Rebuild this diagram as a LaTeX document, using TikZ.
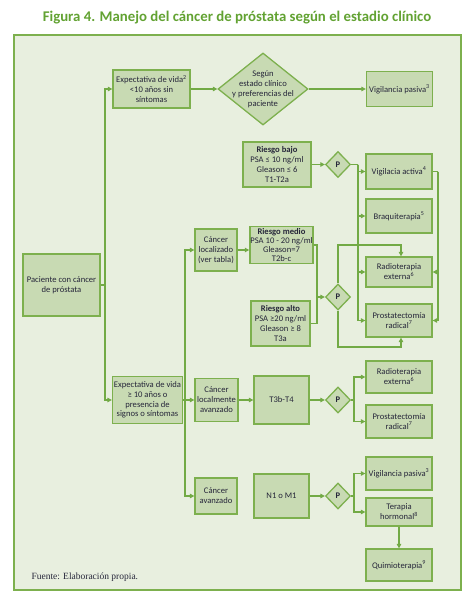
\documentclass[tikz,border=0pt]{standalone}
\usepackage{fontspec}
\setmainfont{Carlito}
\newfontfamily\footfont{Liberation Serif}
\usetikzlibrary{shapes.geometric,arrows.meta,calc}
\definecolor{framebg}{HTML}{E8EFDF}
\definecolor{boxfill}{HTML}{C8DAB3}
\definecolor{boxline}{HTML}{7DB04E}
\definecolor{linec}{HTML}{72AA45}
\definecolor{titlec}{HTML}{62A232}
\definecolor{txt}{HTML}{26263A}
\begin{document}
\begin{tikzpicture}[x=1pt,y=-1pt,
  box/.style={draw=boxline, fill=boxfill, line width=1.3pt, inner sep=1pt, align=center,
    font=\fontsize{8.6}{10}\selectfont, text=txt},
  dia/.style={diamond, draw=boxline, fill=boxfill, line width=1.3pt, inner sep=0pt},
  dtext/.style={align=center, font=\fontsize{8.6}{10}\selectfont, text=txt, inner sep=0pt},
  pdia/.style={dia, minimum width=25pt, minimum height=26pt, font=\bfseries\fontsize{8.6}{10}\selectfont, text=txt},
  conn/.style={draw=linec, line width=1.1pt},
  arr/.style={conn, -{Triangle[length=4.5pt,width=4.5pt]}},
]
\useasboundingbox (0,0) rectangle (471,599);
\node[font=\bfseries\fontsize{14.8}{17}\selectfont, text=titlec] (title) at (237,18)
  {Figura 4. Manejo del cáncer de próstata según el estadio clínico};
\draw[draw=boxline, fill=framebg, line width=1.2pt] (14,35) rectangle (461,590);

% nodes
\node[box, minimum width=77pt, minimum height=38pt] (e1) at (151.5,89)
  {Expectativa de vida\textsuperscript{2}\\<10 años sin\\síntomas};
\node[dia, minimum width=90pt, minimum height=72pt] (d0) at (263,89) {};
\node[dtext] (d0t) at (d0.center) {Según\\estado clínico\\y preferencias del\\paciente};
\node[box, minimum width=66pt, minimum height=35pt] (vp1) at (399.5,89)
  {Vigilancia pasiva\textsuperscript{3}};
\node[box, minimum width=77pt, minimum height=62pt] (pac) at (61.5,285)
  {Paciente con cáncer\\de próstata};
\node[box, minimum width=70pt, minimum height=47pt, font=\fontsize{8.6}{9.6}\selectfont] (e2) at (147.5,400)
  {Expectativa de vida\\≥ 10 años o\\presencia de\\signos o síntomas};
\node[box, minimum width=42pt, minimum height=42pt] (loc) at (216,250)
  {Cáncer\\localizado\\(ver tabla)};
\node[box, minimum width=43pt, minimum height=43pt] (la) at (216.5,400)
  {Cáncer\\localmente\\avanzado};
\node[box, minimum width=42pt, minimum height=36pt] (av) at (216,496)
  {Cáncer\\avanzado};
\node[box, minimum width=68pt, minimum height=45pt] (bajo) at (277,164.5)
  {\textbf{Riesgo bajo}\\PSA ≤ 10 ng/ml\\Gleason ≤ 6\\T1-T2a};
\node[pdia] (p1) at (338,164.5) {P};
\node[box, minimum width=66pt, minimum height=35pt] (va) at (399,171.5)
  {Vigilacia activa\textsuperscript{4}};
\node[box, minimum width=66pt, minimum height=34pt] (braq) at (399,216)
  {Braquiterapia\textsuperscript{5}};
\node[box, minimum width=66pt, minimum height=30pt] (rad) at (399,272)
  {Radioterapia\\externa\textsuperscript{6}};
\node[box, minimum width=66pt, minimum height=33pt] (pros) at (399,320.5)
  {Prostatectomía\\radical\textsuperscript{7}};
\node[box, minimum width=62pt, minimum height=37pt, inner sep=0.5pt, font=\fontsize{8.6}{9}\selectfont] (medio) at (281.5,245)
  {\textbf{Riesgo medio}\\PSA 10 - 20 ng/ml\\Gleason=7\\T2b-c};
\node[box, minimum width=59pt, minimum height=45pt] (alto) at (280.5,323.5)
  {\textbf{Riesgo alto}\\PSA ≥20 ng/ml\\Gleason ≥ 8\\T3a};
\node[pdia] (p2) at (338,297) {P};
\node[box, minimum width=55pt, minimum height=48pt] (t3) at (281.5,400) {T3b-T4};
\node[pdia] (p3) at (338,400) {P};
\node[box, minimum width=66pt, minimum height=32pt] (rad2) at (399,377)
  {Radioterapia\\externa\textsuperscript{6}};
\node[box, minimum width=66pt, minimum height=33pt] (pros2) at (399,421.5)
  {Prostatectomía\\radical\textsuperscript{7}};
\node[box, minimum width=55pt, minimum height=44pt] (n1) at (281.5,496) {N1 o M1};
\node[pdia] (p4) at (338,496) {P};
\node[box, minimum width=66pt, minimum height=33pt] (vp2) at (399,473.5)
  {Vigilancia pasiva\textsuperscript{3}};
\node[box, minimum width=66pt, minimum height=28pt] (hor) at (399,512)
  {Terapia\\hormonal\textsuperscript{8}};
\node[box, minimum width=66pt, minimum height=32pt] (qui) at (399,565)
  {Quimioterapia\textsuperscript{9}};
\node[anchor=west, font=\footfont\fontsize{9.5}{11}\selectfont, text=txt] (src) at (28,577)
  {Fuente: Elaboración propia.};

% junction coordinates
\coordinate (j1) at (105,285);
\coordinate (j2) at (185,400);
\coordinate (j3) at (358,164.5);
\coordinate (j4) at (438,171.5);
\coordinate (j5) at (317,297);
\coordinate (rt) at (401,245);
\coordinate (rb) at (401,347);
\coordinate (j6) at (354,400);
\coordinate (j7) at (354,496);

% connectors
\draw[conn] (pac.east) -- (j1);
\draw[arr] (j1) |- (e1.west);
\draw[arr] (j1) |- (e2.west);
\draw[arr] (e1.east) -- (d0.west);
\draw[arr] (d0.east) -- (vp1.west);
\draw[arr] (e2.east) -- (la.west);
\draw[arr] (j2) |- (loc.west);
\draw[arr] (j2) |- (av.west);
\draw[arr] (loc.east) -- (loc.east -| medio.west);
\draw[arr] (bajo.east) -- (p1.west);
\draw[conn] (p1.east) -- (j3);
\draw[arr] (j3) |- (va.west);
\draw[arr] (j3) |- (braq.west);
\draw[arr] (j3) |- (rad.west);
\draw[arr] (j3) |- (pros.west);
\draw[conn] (va.east) -- (j4);
\draw[arr] (j4) |- (rad.east);
\draw[arr] (j4) |- (pros.east);
\draw[conn] (medio.east) -| (j5);
\draw[conn] (alto.east) -| (j5);
\draw[arr] (j5) -- (p2.west);
\draw[arr] (p2.north) |- (rt) -- (rt |- rad.north);
\draw[arr] (p2.south) |- (rb) -- (rb |- pros.south);
\draw[arr] (la.east) -- (t3.west);
\draw[arr] (t3.east) -- (p3.west);
\draw[conn] (p3.east) -- (j6);
\draw[arr] (j6) |- (rad2.west);
\draw[arr] (j6) |- (pros2.west);
\draw[arr] (n1.east) -- (p4.west);
\draw[conn] (p4.east) -- (j7);
\draw[arr] (j7) |- (vp2.west);
\draw[arr] (j7) |- (hor.west);
\draw[arr] (hor.south) -- (qui.north);
\end{tikzpicture}
\end{document}
